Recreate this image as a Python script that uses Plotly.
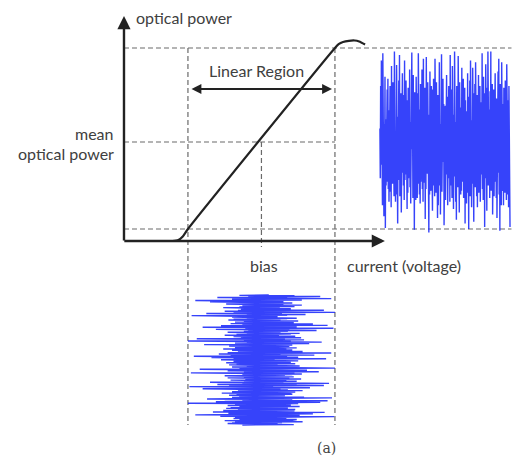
import numpy as np
import plotly.graph_objects as go

# ---- data (arbitrary units) ----
# transfer curve: drive current -> optical power
curve_current = [3.3, 3.7, 4.0, 4.35, 14.35, 14.6, 14.9, 15.3, 15.7, 16.0, 16.4]
curve_power = [0.0, 0.1, 0.45, 1.2, 19.3, 19.68, 19.9, 20.02, 20.05, 19.95, 19.65]

I_threshold, I_bias, I_saturation = 4.35, 9.35, 14.35
P_low, P_high = 1.2, 19.3
P_mean = 9.9

# modulation samples (percent of full swing)
mod_output = [
    15, -40, 62, -25, 90, -55, 30, -70, 98, -18, 45, -82, 20, -35, 72, -95, 25, -48, 58, -30,
    58, -44, 70, -52, 35, -66, 48, -30, 62, -55, 40, -72, 84, -38, 50, -46, 66, -28, 54, -60,
    100, -22, 38, -66, 12, -58, 85, -15, 50, -90, 28, -42, 68, -28, 96, -60, 18, -36, 54, -78,
    45, -58, 76, -34, 52, -48, 30, -64, 90, -42, 56, -36, 68, -50, 28, -74, 46, -56, 60, -40,
    40, -12, 80, -50, 22, -68, 48, -30, 99, -8, 34, -62, 74, -40, 16, -97, 55, -20, 44, -64,
    72, -30, 44, -62, 54, -46, 98, -38, 50, -58, 36, -68, 64, -44, 52, -34, 80, -52, 42, -66,
    92, -45, 28, -26, 60, -85, 24, -52, 94, -30, 48, -35, 66, -18, 38, -100, 30, -58, 78, -24,
    48, -54, 62, -40, 34, -76, 58, -48, 70, -32, 46, -60, 92, -50, 38, -56, 66, -42, 54, -84,
    52, -70, 36, -15, 88, -48, 20, -80, 64, -32, 97, -55, 26, -44, 70, -22, 42, -92, 18, -60,
    40, -64, 56, -46, 74, -36, 50, -70, 44, -52, 62, -40, 36, -66, 96, -48, 58, -38, 50, -62,
    84, -28, 46, -74, 30, -38, 100, -16, 56, -66, 22, -86, 62, -34, 40, -50, 95, -20, 34, -78,
    66, -42, 48, -58, 38, -54, 82, -44, 56, -36, 70, -62, 42, -50, 60, -90, 46, -56, 34, -68,
    26, -56, 76, -42, 18, -96, 50, -24, 68, -60, 90, -30, 38, -72, 24, -46, 82, -14, 58, -88,
    54, -38, 64, -50, 88, -46, 40, -60, 52, -72, 36, -44, 74, -56, 48, -34, 62, -66, 44, -52,
    44, -36, 98, -52, 16, -64, 72, -28, 36, -94, 54, -40, 86, -22, 30, -76, 60, -48, 100, -18,
    70, -48, 36, -62, 56, -42, 100, -54, 46, -38, 64, -80, 50, -46, 58, -60, 40, -50, 76, -44,
    32, -62, 48, -84, 20, -40, 78, -34, 92, -58, 26, -98, 64, -26, 42, -70, 88, -44, 22, -54,
    42, -70, 60, -36, 52, -56, 68, -48, 38, -64, 86, -40, 54, -58, 46, -72, 62, -34, 50, -94,
]
mod_input = [
    10, -30, 45, -18, 80, -25, 22, -60, 35, -12, 95, -40, 20, -28, 55, -90, 15, -35, 30, -70,
    28, -35, 42, -22, 30, -48, 18, -32, 55, -26, 38, -20, 45, -30, 25, -52, 35, -18, 40, -28,
    25, -15, 85, -32, 18, -50, 40, -22, 100, -38, 28, -75, 12, -30, 60, -20, 35, -95, 22, -45,
    22, -40, 30, -25, 48, -20, 35, -38, 26, -45, 20, -30, 50, -24, 32, -36, 44, -22, 28, -42,
    70, -26, 30, -16, 90, -55, 20, -35, 48, -80, 15, -28, 98, -22, 38, -62, 25, -40, 75, -18,
    36, -24, 26, -46, 32, -28, 52, -20, 40, -34, 24, -50, 30, -26, 46, -38, 22, -32, 54, -28,
    32, -88, 22, -30, 58, -24, 40, -100, 18, -45, 82, -20, 30, -36, 65, -26, 20, -78, 42, -15,
    30, -44, 38, -22, 26, -36, 48, -30, 20, -52, 34, -26, 42, -40, 28, -24, 56, -32, 36, -46,
    95, -34, 26, -58, 16, -28, 72, -42, 35, -92, 24, -20, 50, -68, 30, -25, 88, -38, 18, -55,
    24, -30, 50, -38, 34, -22, 40, -48, 28, -26, 46, -34, 22, -44, 36, -28, 52, -20, 30, -40,
    40, -22, 100, -30, 25, -84, 36, -18, 62, -46, 20, -32, 78, -24, 45, -96, 28, -40, 55, -20,
    42, -26, 32, -50, 22, -34, 44, -24, 38, -46, 26, -30, 54, -22, 34, -42, 28, -36, 48, -24,
    30, -70, 18, -36, 92, -26, 48, -60, 22, -30, 85, -44, 16, -98, 38, -24, 66, -34, 26, -80,
    26, -48, 36, -28, 56, -32, 24, -40, 46, -22, 30, -54, 38, -26, 42, -34, 20, -44, 32, -30,
    20, -28, 58, -40, 96, -22, 34, -74, 15, -50, 42, -26, 90, -36, 24, -62, 80, -18, 30, -100,
    50, -22, 28, -36, 40, -46, 32, -24, 52, -30, 22, -42, 36, -48, 26, -32, 46, -28, 38, -52,
    45, -32, 22, -66, 86, -20, 38, -45, 70, -28, 18, -90, 52, -30, 28, -56, 99, -24, 40, -36,
    34, -38, 24, -30, 48, -26, 42, -50, 30, -24, 56, -36, 28, -40, 22, -46, 36, -30, 44, -26,
]

# ---- layout constants ----
X_RANGE = [-8.435, 26.463]
Y_RANGE = [-21.7, 24.1]
out_t0, out_t1 = 17.41, 26.26      # time span of output waveform (along current axis)
in_t0, in_t1 = -5.4, -18.4         # time span of input waveform (along power axis)

TXT = "#404040"
DASH = "#6a6a6a"
BLUE = "rgb(20,35,250)"
FONT = "Lato"

fig = go.Figure()

def dashed(xs, ys):
    fig.add_trace(go.Scatter(x=xs, y=ys, mode="lines",
                             line=dict(color=DASH, width=1.2, dash="5px,3px"),
                             hoverinfo="skip", showlegend=False))

dashed([0, out_t1 + 0.1], [P_high, P_high])
dashed([0, out_t1 + 0.1], [P_low, P_low])
dashed([0, I_saturation], [P_mean, P_mean])
dashed([I_threshold, I_threshold], [P_high, in_t1])
dashed([I_saturation, I_saturation], [P_high, in_t1])
dashed([I_bias, I_bias], [P_mean, -0.6])

# output optical waveform
n_out = len(mod_output)
t_out = np.linspace(out_t0, out_t1, n_out)
p_out = [P_mean + (P_high - P_low) / 2 * m / 100 for m in mod_output]
fig.add_trace(go.Scatter(x=t_out, y=p_out, mode="lines",
                         line=dict(color=BLUE, width=1.4), opacity=0.85,
                         hoverinfo="skip", showlegend=False))

# input current waveform
n_in = len(mod_input)
t_in = np.linspace(in_t0, in_t1, n_in)
i_in = [I_bias + (I_saturation - I_threshold) / 2 * m / 100 for m in mod_input]
fig.add_trace(go.Scatter(x=i_in, y=t_in, mode="lines",
                         line=dict(color=BLUE, width=1.4), opacity=0.85,
                         hoverinfo="skip", showlegend=False))

# transfer curve
fig.add_trace(go.Scatter(x=curve_current, y=curve_power, mode="lines",
                         line=dict(color="#222222", width=2.2, shape="spline", smoothing=0.6),
                         hoverinfo="skip", showlegend=False))

ann = []
# axes arrows
ann.append(dict(x=0, y=22.5, ax=0, ay=-0.1, xref="x", yref="y", axref="x", ayref="y",
                showarrow=True, arrowhead=2, arrowsize=1.1, arrowwidth=2.4, arrowcolor="#222222", text=""))
ann.append(dict(x=17.75, y=0, ax=-0.08, ay=0, xref="x", yref="y", axref="x", ayref="y",
                showarrow=True, arrowhead=2, arrowsize=1.1, arrowwidth=2.4, arrowcolor="#222222", text=""))
# linear region double arrow
ann.append(dict(x=14.15, y=15.2, ax=4.49, ay=15.2, xref="x", yref="y", axref="x", ayref="y",
                showarrow=True, arrowhead=2, startarrowhead=2, arrowside="end+start",
                arrowsize=1.1, arrowwidth=1.8, arrowcolor="#222222", text=""))

def label(x, y, text, xanchor="center", align="center", size=16, family=FONT, color=TXT):
    ann.append(dict(x=x, y=y, xref="x", yref="y", text=text, showarrow=False,
                    xanchor=xanchor, yanchor="middle", align=align,
                    font=dict(family=family, size=size, color=color)))

label(0.65, 22.4, "optical power", xanchor="left")
label(-0.55, 10.8, "mean", xanchor="right", align="right")
label(-0.55, 8.8, "optical power", xanchor="right", align="right")
label(9.0, 17.1, "Linear Region")
label(9.5, -2.4, "bias")
label(15.05, -2.4, "current (voltage)", xanchor="left")
label(13.75, -20.7, "(a)", family="DejaVu Serif", size=14, color="#444444")

fig.update_layout(
    width=513, height=458,
    margin=dict(l=0, r=0, t=0, b=0),
    paper_bgcolor="white", plot_bgcolor="white",
    xaxis=dict(range=X_RANGE, visible=False, fixedrange=True),
    yaxis=dict(range=Y_RANGE, visible=False, fixedrange=True),
    annotations=ann,
    showlegend=False,
)

fig.write_html("out.html")
